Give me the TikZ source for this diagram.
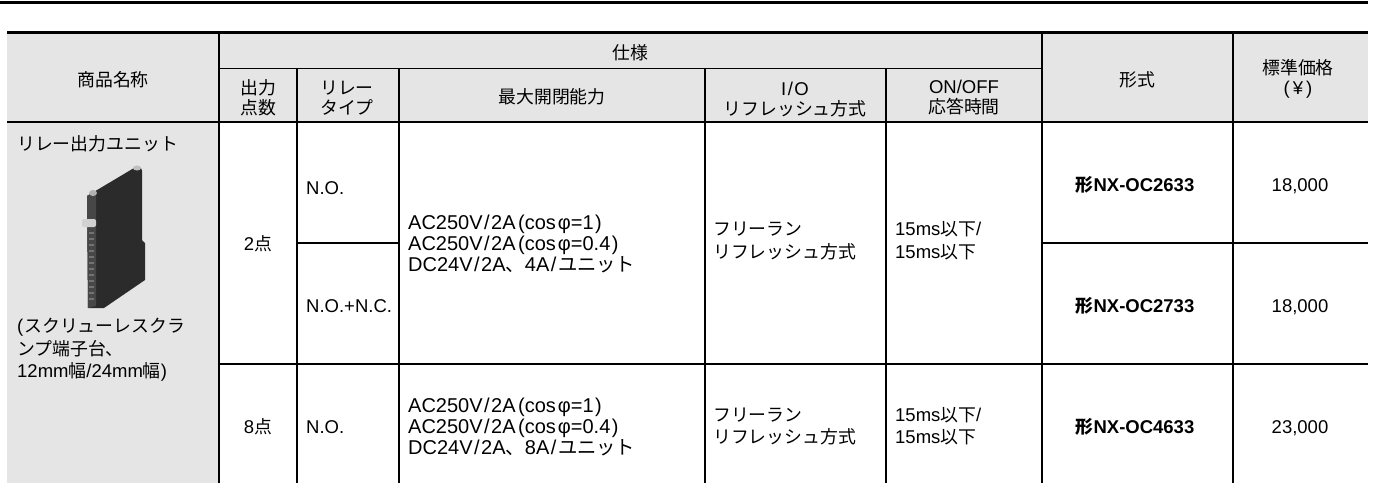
\documentclass[tikz,border=0pt]{standalone}
\usepackage{fontspec}
\setmainfont{Liberation Sans}
\newfontfamily\jpf[Scale=0.965]{Noto Sans CJK JP}
\newcommand\slsh{\kern1.5pt/\kern1.5pt}
\begin{document}
\begin{tikzpicture}[x=1pt,y=-1pt,
  txt/.style={font=\fontsize{18.5}{22}\selectfont, inner sep=0pt},
  L/.style={txt, anchor=base west},
  C/.style={txt, anchor=base},
  captxt/.style={L, font=\fontsize{20}{22}\selectfont},
  thin/.style={line width=1.3pt},
  hdr/.style={fill=black!10}]
\useasboundingbox (0,0) rectangle (1373,483);
% gray areas
\fill[hdr] (7,32) rectangle (1368,122);
\fill[hdr] (7,122) rectangle (219,483);
% rules
\draw[line width=3pt] (0,2) -- (1368,2);
\draw[line width=3pt] (7,32) -- (1368,32);
\draw[thin] (219,68.5) -- (1042,68.5);
\draw[thin] (297,243) -- (399,243);
\draw[thin] (1042,243) -- (1368,243);
\draw[thin] (219,364) -- (1368,364);
\draw[thin] (297,68.5) -- (297,483);
\draw[thin] (399,68.5) -- (399,483);
\draw[thin] (705,68.5) -- (705,483);
\draw[thin] (886,68.5) -- (886,483);
\draw[thin] (1042,32) -- (1042,483);
\draw[thin] (1233,32) -- (1233,483);
\draw[line width=2.2pt] (219,32) -- (219,483);
\draw[line width=2.7pt] (7,122) -- (1368,122);
% header text
\node[C] (h1) at (113,86.8) {\jpf 商品名称};
\node[C] (h2) at (630.5,59.4) {\jpf 仕様};
\node[C] (h3a) at (258,94.8) {\jpf 出力};
\node[C] (h3b) at (258,114.8) {\jpf 点数};
\node[C] (h4a) at (347,94.8) {\jpf リレー};
\node[C] (h4b) at (347,114.8) {\jpf タイプ};
\node[C] (h5) at (552,103.5) {\jpf 最大開閉能力};
\node[C] (h6a) at (795,95.1) {I\slsh O};
\node[C] (h6b) at (795,115.1) {\jpf リフレッシュ方式};
\node[C] (h7a) at (964,93.5) {ON/OFF};
\node[C] (h7b) at (964,113.5) {\jpf 応答時間};
\node[C] (h8) at (1137.5,86.8) {\jpf 形式};
\node[C] (h9a) at (1298,74.8) {\jpf 標準価格};
\node[C] (h9b) at (1298,94.8) {(\,¥\,)};
% product column
\node[L] (p1) at (17,150.3) {\jpf リレー出力ユニット};
\node[L] (p2) at (17,332.8) {(\kern1pt{\jpf スクリューレスクラ}};
\node[L] (p3) at (17,355.3) {\jpf ンプ端子台、};
\node[L] (p4) at (17,377.8) {12mm{\jpf 幅}/24mm{\jpf 幅})};
% module picture
\fill[black!83] (87,196) -- (134,168) .. controls (138,166) and (142,167) .. (142,171) -- (142,240) -- (145,243) -- (145,280) -- (104,308) -- (88,308) -- cycle;
\fill[black!72] (87,196) -- (96,191) -- (96,306) -- (88,308) -- cycle;
\foreach \yy in {232,238,...,302} \fill[black!55] (89,\yy) rectangle (94,\yy+1.5);
\fill[black!30] (93,193) ellipse (4 and 3);
\fill[black!25] (137,168) ellipse (4 and 2.5);
\fill[black!18, rounded corners=2pt] (82,219) rectangle (96,227);
% points
\node[C] (n2) at (258,250.8) {2{\jpf 点}};
\node[C] (n8) at (258,433.5) {8{\jpf 点}};
% relay type
\node[L] (r1) at (306,194.3) {N.O.};
\node[L] (r2) at (306,312.8) {N.O.+N.C.};
\node[L] (r3) at (306,433.5) {N.O.};
% capacity
\node[captxt] (c1) at (408,229.2) {AC250V\slsh 2A\kern2.5pt(cos\kern2ptφ=1\kern1.5pt)};
\node[captxt] (c2) at (408,250.5) {AC250V\slsh 2A\kern2.5pt(cos\kern2ptφ=0.4\kern1.5pt)};
\node[captxt] (c3) at (408,271.5) {DC24V\slsh 2A{\jpf 、}4A\slsh{\jpf ユニット}};
\node[captxt] (c4) at (408,412.7) {AC250V\slsh 2A\kern2.5pt(cos\kern2ptφ=1\kern1.5pt)};
\node[captxt] (c5) at (408,433.7) {AC250V\slsh 2A\kern2.5pt(cos\kern2ptφ=0.4\kern1.5pt)};
\node[captxt] (c6) at (408,454.7) {DC24V\slsh 2A{\jpf 、}8A\slsh{\jpf ユニット}};
% refresh
\node[L] (f1) at (713,235.8) {\jpf フリーラン};
\node[L] (f2) at (713,258.3) {\jpf リフレッシュ方式};
\node[L] (f3) at (713,421.3) {\jpf フリーラン};
\node[L] (f4) at (713,443.3) {\jpf リフレッシュ方式};
% response
\node[L] (t1) at (895,235.6) {15ms{\jpf 以下}/};
\node[L] (t2) at (895,258.1) {15ms{\jpf 以下}};
\node[L] (t3) at (895,421.1) {15ms{\jpf 以下}/};
\node[L] (t4) at (895,443.1) {15ms{\jpf 以下}};
% model
\node[C] (m1) at (1135,191) {\bfseries{\jpf 形}NX-OC2633};
\node[C] (m2) at (1135,312.8) {\bfseries{\jpf 形}NX-OC2733};
\node[C] (m3) at (1135,433.5) {\bfseries{\jpf 形}NX-OC4633};
% price
\node[C] (v1) at (1300,191) {18,000};
\node[C] (v2) at (1300,312.8) {18,000};
\node[C] (v3) at (1300,433.5) {23,000};
\end{tikzpicture}
\end{document}
